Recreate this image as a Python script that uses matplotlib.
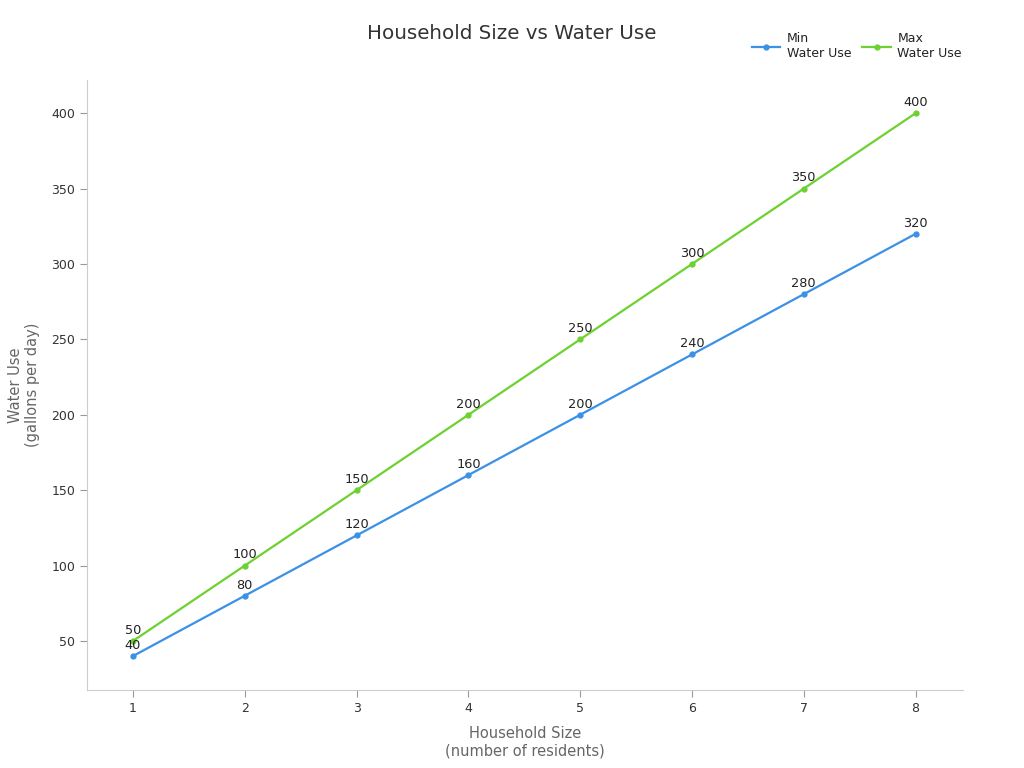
import matplotlib
matplotlib.use("Agg")
import matplotlib.pyplot as plt

household = [1, 2, 3, 4, 5, 6, 7, 8]
min_use = [40, 80, 120, 160, 200, 240, 280, 320]
max_use = [50, 100, 150, 200, 250, 300, 350, 400]

blue = '#3b91e6'
green = '#6dd12f'

fig = plt.figure(figsize=(10.24, 7.68), dpi=100)
ax = fig.add_axes([0.085, 0.1016, 0.855, 0.7942])

ax.plot(household, min_use, color=blue, lw=1.6, marker='o', ms=3.5, label='Min\nWater Use')
ax.plot(household, max_use, color=green, lw=1.6, marker='o', ms=3.5, label='Max\nWater Use')

for x, y in zip(household, min_use):
    ax.annotate(str(y), (x, y), xytext=(0, 3), textcoords='offset points',
                ha='center', va='bottom', fontsize=9.3, color='#222222')
for x, y in zip(household, max_use):
    ax.annotate(str(y), (x, y), xytext=(0, 3), textcoords='offset points',
                ha='center', va='bottom', fontsize=9.3, color='#222222')

ax.set_xlim(0.589, 8.42)
ax.set_ylim(17.5, 422)
ax.set_xticks(household)
ax.set_yticks([50, 100, 150, 200, 250, 300, 350, 400])

for s in ['top', 'right']:
    ax.spines[s].set_visible(False)
for s in ['left', 'bottom']:
    ax.spines[s].set_color('#cccccc')
ax.tick_params(labelcolor='#333333', labelsize=9, length=5, color='#999999')

ax.set_xlabel('Household Size\n(number of residents)', fontsize=10.5, color='#666666', labelpad=8)
ax.set_ylabel('Water Use\n(gallons per day)', fontsize=10.5, color='#666666', labelpad=8)

fig.text(0.5, 0.957, 'Household Size vs Water Use', ha='center', va='center', fontsize=14.3, color='#333333')

ax.legend(loc='upper right', bbox_to_anchor=(1.012, 1.097), ncol=2, frameon=False,
          fontsize=9, handlelength=2.3, columnspacing=0.9, handletextpad=0.5,
          labelcolor='#222222')

fig.savefig('out.png', dpi=100)
